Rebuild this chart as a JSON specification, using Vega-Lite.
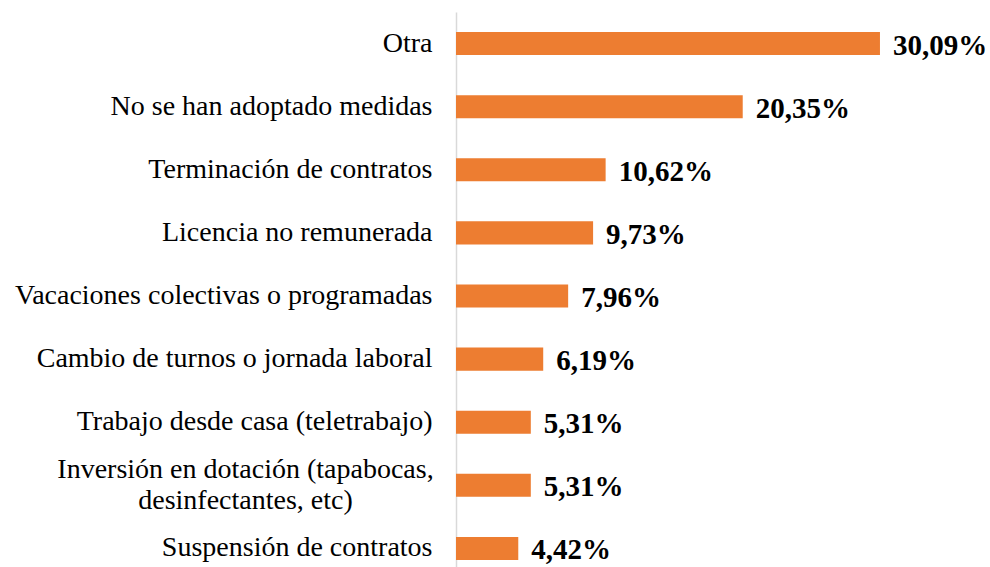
{
  "$schema": "https://vega.github.io/schema/vega-lite/v6.json",
  "width": 534,
  "height": 568,
  "autosize": {"type": "none"},
  "padding": {"left": 456, "top": 12, "right": 0, "bottom": 0},
  "background": "white",
  "config": {"view": {"stroke": null}},
  "data": {
    "values": [
      {"medida": "Otra", "valor": 30.09, "etiqueta": "30,09%"},
      {"medida": "No se han adoptado medidas", "valor": 20.35, "etiqueta": "20,35%"},
      {"medida": "Terminación de contratos", "valor": 10.62, "etiqueta": "10,62%"},
      {"medida": "Licencia no remunerada", "valor": 9.73, "etiqueta": "9,73%"},
      {"medida": "Vacaciones colectivas o programadas", "valor": 7.96, "etiqueta": "7,96%"},
      {"medida": "Cambio de turnos o jornada laboral", "valor": 6.19, "etiqueta": "6,19%"},
      {"medida": "Trabajo desde casa (teletrabajo)", "valor": 5.31, "etiqueta": "5,31%"},
      {"medida": "Inversión en dotación (tapabocas, desinfectantes, etc)", "valor": 5.31, "etiqueta": "5,31%"},
      {"medida": "Suspensión de contratos", "valor": 4.42, "etiqueta": "4,42%"}
    ]
  },
  "encoding": {
    "y": {
      "field": "medida",
      "type": "nominal",
      "sort": null,
      "scale": {"paddingInner": 0.635, "paddingOuter": 0.3175},
      "axis": {
        "title": null,
        "ticks": false,
        "domainColor": "#D9D9D9",
        "domainWidth": 1.5,
        "labelFont": "Liberation Serif",
        "labelFontSize": 28,
        "labelColor": "#000000",
        "labelPadding": {"condition": {"test": "indexof(datum.value, 'Inversión') == 0", "value": 211}, "value": 24},
        "labelAlign": {"condition": {"test": "indexof(datum.value, 'Inversión') == 0", "value": "center"}, "value": "right"},
        "labelLimit": 500,
        "labelLineHeight": 31,
        "labelOffset": {"condition": {"test": "indexof(datum.value, 'Inversión') == 0", "value": -15}, "value": 0},
        "labelExpr": "datum.label == 'Inversión en dotación (tapabocas, desinfectantes, etc)' ? ['Inversión en dotación (tapabocas,', 'desinfectantes, etc)'] : datum.label"
      }
    },
    "x": {
      "field": "valor",
      "type": "quantitative",
      "scale": {"domain": [0, 37.9], "nice": false},
      "axis": null
    }
  },
  "layer": [
    {"mark": {"type": "bar", "color": "#ED7D31"}},
    {
      "mark": {
        "type": "text",
        "align": "left",
        "baseline": "middle",
        "dx": 13,
        "dy": 2,
        "font": "Liberation Serif",
        "fontSize": 29,
        "fontWeight": "bold",
        "color": "#000000"
      },
      "encoding": {"text": {"field": "etiqueta"}}
    }
  ]
}
